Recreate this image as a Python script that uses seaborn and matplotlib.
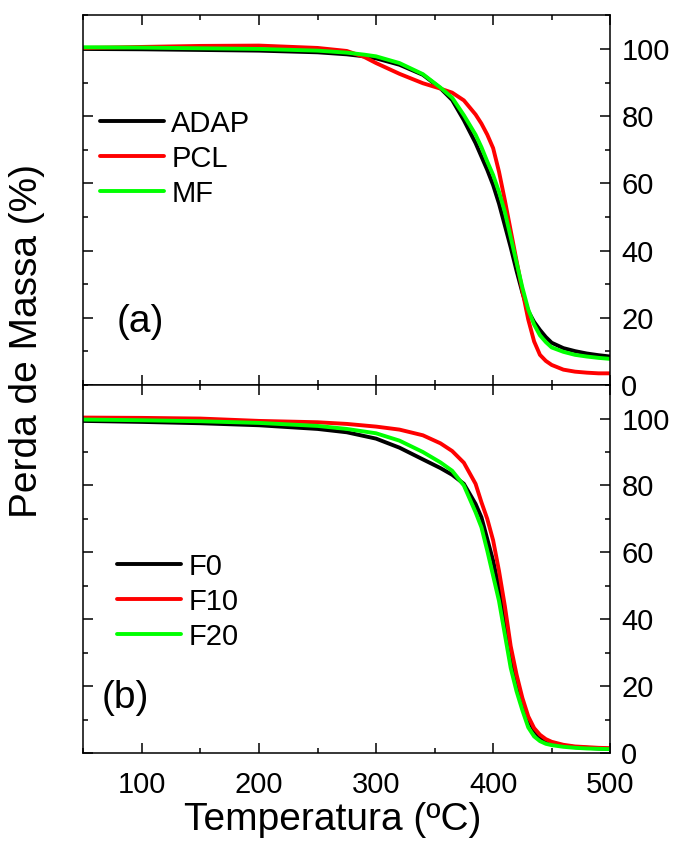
import matplotlib
matplotlib.use("Agg")
import matplotlib.pyplot as plt
import seaborn as sns
from matplotlib.ticker import MultipleLocator

# Panel (a) - temperature grid (ºC) and mass (%)
temp_a = [50, 100, 150, 200, 250, 275, 290, 300, 320, 340, 355, 365, 375, 385, 390, 395,
          400, 405, 410, 415, 420, 425, 430, 435, 440, 445, 450, 460, 470, 480, 490, 500]
adap = [100.0, 99.9, 99.7, 99.5, 99.0, 98.4, 97.8, 97.2, 95.3, 92.3, 88.3, 84.8, 78.8, 72.0, 68.0, 64.0,
        59.5, 54.0, 47.5, 41.0, 34.0, 27.5, 22.0, 18.8, 16.4, 14.3, 12.6, 11.0, 10.1, 9.4, 8.9, 8.5]
pcl = [100.3, 100.6, 100.9, 101.0, 100.3, 99.4, 97.6, 95.8, 92.6, 89.8, 88.2, 87.0, 84.7, 80.5, 77.8, 74.5,
       70.5, 63.5, 55.0, 46.0, 37.0, 28.0, 19.5, 13.0, 9.0, 7.2, 6.0, 4.6, 4.0, 3.7, 3.5, 3.5]
mf = [100.5, 100.4, 100.2, 100.0, 99.5, 98.9, 98.3, 97.8, 95.8, 92.5, 88.5, 85.5, 80.3, 74.5, 70.8, 66.5,
      62.5, 57.5, 51.5, 44.0, 36.5, 29.0, 22.5, 18.0, 14.8, 12.8, 11.2, 9.9, 9.0, 8.5, 8.1, 7.8]

# Panel (b)
temp_b = [50, 100, 150, 200, 250, 275, 300, 320, 340, 355, 365, 375, 385, 390, 395,
          400, 405, 410, 415, 420, 425, 430, 435, 440, 445, 450, 460, 470, 480, 490, 500]
f0 = [99.3, 99.0, 98.6, 98.0, 96.9, 95.9, 94.0, 91.3, 87.8, 85.2, 83.2, 80.5, 74.5, 70.5, 64.0,
      57.5, 49.5, 39.0, 28.5, 21.5, 15.5, 10.0, 6.8, 4.8, 3.6, 2.9, 2.2, 1.8, 1.6, 1.4, 1.3]
f10 = [100.3, 100.2, 100.0, 99.3, 98.9, 98.4, 97.6, 96.7, 95.0, 92.6, 90.3, 86.8, 80.5, 75.0, 70.0,
       63.6, 54.5, 44.0, 32.0, 23.5, 16.5, 11.0, 7.5, 5.5, 4.2, 3.4, 2.5, 2.0, 1.8, 1.6, 1.5]
f20 = [99.7, 99.5, 99.2, 98.7, 97.8, 96.9, 95.6, 93.4, 90.0, 86.9, 84.4, 80.0, 72.0, 67.5, 60.5,
       53.0, 45.5, 35.5, 25.5, 18.5, 12.8, 7.7, 5.0, 3.6, 2.8, 2.4, 1.9, 1.6, 1.4, 1.3, 1.2]

labels_a = ["ADAP", "PCL", "MF"]
labels_b = ["F0", "F10", "F20"]
colors = ["#000000", "#ff0000", "#00ff00"]

sns.set_style("ticks")
plt.rcParams['font.family'] = ['Liberation Sans', 'DejaVu Sans']
plt.rcParams['text.color'] = 'black'
plt.rcParams['axes.labelcolor'] = 'black'

fig = plt.figure(figsize=(6.78, 8.52), dpi=100)
ax_a = fig.add_axes([0.123, 0.548, 0.777, 0.434])
ax_b = fig.add_axes([0.123, 0.116, 0.777, 0.432])

for ys, lab, c in zip([adap, pcl, mf], labels_a, colors):
    sns.lineplot(x=temp_a, y=ys, ax=ax_a, color=c, lw=2.8, label=lab)
for ys, lab, c in zip([f0, f10, f20], labels_b, colors):
    sns.lineplot(x=temp_b, y=ys, ax=ax_b, color=c, lw=2.8, label=lab)

for ax in (ax_a, ax_b):
    ax.set_xlim(50, 500)
    ax.set_ylim(0, 110)
    ax.xaxis.set_major_locator(MultipleLocator(100))
    ax.xaxis.set_minor_locator(MultipleLocator(50))
    ax.yaxis.set_major_locator(MultipleLocator(20))
    ax.yaxis.set_minor_locator(MultipleLocator(10))
    ax.tick_params(which='both', direction='in', top=True, bottom=True, left=True, right=True,
                   labelleft=False, labelright=True, width=1.1, colors='black',
                   labelcolor='black', labelsize=21)
    ax.tick_params(which='major', length=7)
    ax.tick_params(which='minor', length=3.5)
    ax.tick_params(axis='y', pad=8)
    ax.tick_params(axis='x', pad=13)
    for s in ax.spines.values():
        s.set_linewidth(1.1)
        s.set_color('black')
    ax.set_xlabel("")
    ax.set_ylabel("")

ax_a.tick_params(axis='x', labelbottom=False)

leg_a = ax_a.legend(loc='upper left', bbox_to_anchor=(0.031, 0.745), frameon=False, fontsize=21,
                    handlelength=2.2, handletextpad=0.25, labelspacing=0.24, borderpad=0, borderaxespad=0)
leg_b = ax_b.legend(loc='upper left', bbox_to_anchor=(0.064, 0.545), frameon=False, fontsize=21,
                    handlelength=2.2, handletextpad=0.25, labelspacing=0.24, borderpad=0, borderaxespad=0)
for leg in (leg_a, leg_b):
    for t in leg.get_texts():
        t.set_color('black')

ax_a.text(0.064, 0.17, "(a)", transform=ax_a.transAxes, fontsize=28, va='center', ha='left')
ax_b.text(0.035, 0.149, "(b)", transform=ax_b.transAxes, fontsize=28, va='center', ha='left')

fig.text(0.04, 0.60, "Perda de Massa (%)", rotation=90, fontsize=28, ha='center', va='center')
fig.text(0.49, 0.038, "Temperatura (ºC)", fontsize=28, ha='center', va='center')

fig.savefig("out.png", dpi=100)
